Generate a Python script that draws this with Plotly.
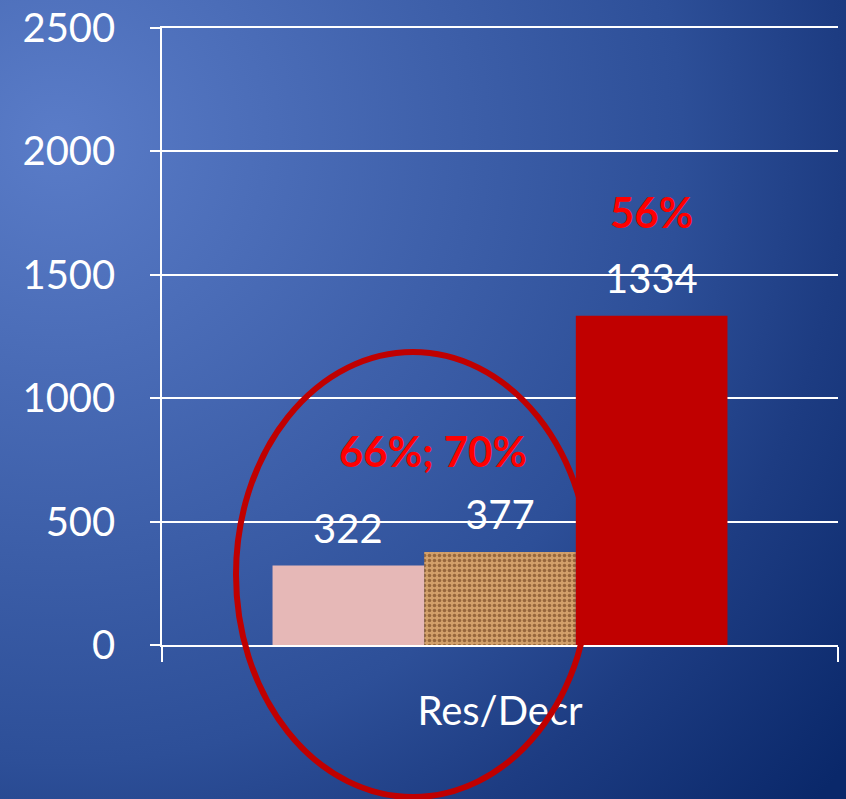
import base64
import plotly.graph_objects as go

# chart data
categories = ['Res/Decr']
values_a = [322]
values_b = [377]
values_c = [1334]
pct_ab = '66%; 70%'
pct_c = '56%'
y_ticks = [0, 500, 1000, 1500, 2000, 2500]

BARGAP = 0.327
FONT = 'Lato'
L, T, R, B = 162, 28, 8, 154
W, H = 846, 799
PW, PH = W - L - R, H - T - B

# gradient backdrop as an svg data uri
svg = '''<svg xmlns="http://www.w3.org/2000/svg" width="846" height="799" viewBox="0 0 846 799" preserveAspectRatio="none">
<defs><radialGradient id="g" gradientUnits="userSpaceOnUse" cx="60" cy="140" r="1000">
<stop offset="0" stop-color="#5a7cc8"/>
<stop offset="0.62" stop-color="#2d4f98"/>
<stop offset="0.78" stop-color="#1d3c82"/>
<stop offset="1" stop-color="#0a286a"/>
</radialGradient></defs>
<rect width="846" height="799" fill="url(#g)"/></svg>'''
bg_uri = 'data:image/svg+xml;base64,' + base64.b64encode(svg.encode()).decode()

fig = go.Figure()
fig.add_trace(go.Bar(x=categories, y=values_a, marker_color='#e6b8b7',
                     marker_line_width=0, name='a'))
fig.add_trace(go.Bar(x=categories, y=values_b, name='b',
                     marker=dict(color='#c9965f', line_width=0,
                                 pattern=dict(shape='.', bgcolor='#d2a06a',
                                              fgcolor='#7e4f28', size=5,
                                              solidity=0.4, fgopacity=0.7))))
fig.add_trace(go.Bar(x=categories, y=values_c, marker_color='#c00000',
                     marker_line_width=0, name='c'))

# bar centres in category units
step = (1 - BARGAP) / 3
centres = [-step, 0, step]
vals = [values_a[0], values_b[0], values_c[0]]

ann = []
for cx, v in zip(centres, vals):
    ann.append(dict(x=cx, y=v, xref='x', yref='y', text=str(v), showarrow=False,
                    yshift=38, font=dict(family=FONT, size=40, color='white')))
ann.append(dict(x=-step / 2 + 0.013, y=max(values_a[0], values_b[0]), xref='x', yref='y',
                text='<b>%s</b>' % pct_ab, showarrow=False, yshift=101,
                font=dict(family=FONT, size=42, color='#ff0000')))
ann.append(dict(x=step, y=values_c[0], xref='x', yref='y',
                text='<b>%s</b>' % pct_c, showarrow=False, yshift=104,
                font=dict(family=FONT, size=42, color='#ff0000')))

fig.update_layout(
    width=W, height=H,
    margin=dict(l=L, r=R, t=T, b=B),
    paper_bgcolor='#2a4b92', plot_bgcolor='rgba(0,0,0,0)',
    barmode='group', bargap=BARGAP, bargroupgap=0,
    showlegend=False,
    annotations=ann,
    images=[dict(source=bg_uri, xref='paper', yref='paper',
                 x=-(L + 3) / PW, y=1 + (T + 3) / PH,
                 sizex=(W + 6) / PW, sizey=(H + 6) / PH, sizing='stretch',
                 xanchor='left', yanchor='top', layer='below')],
    shapes=[dict(type='circle', xref='paper', yref='paper',
                 x0=(236 - L) / PW, x1=(590 - L) / PW,
                 y0=(H - B - 797) / PH, y1=(H - B - 352) / PH,
                 line=dict(color='#c00000', width=6))],
)
fig.update_yaxes(range=[0, 2500], tickvals=y_ticks, showgrid=True, automargin=False,
                 gridcolor='white', gridwidth=1.5, zeroline=False,
                 showline=True, linecolor='white', linewidth=1.5,
                 ticks='outside', ticklen=10, tickcolor='white', tickwidth=1.5,
                 ticklabelstandoff=27,
                 tickfont=dict(family=FONT, size=40, color='white'))
fig.update_xaxes(type='category', showline=True, linecolor='white', linewidth=1.5,
                 automargin=False, mirror=True,
                 ticks='outside', tickson='boundaries', ticklen=15,
                 tickcolor='white', tickwidth=1.5, ticklabelstandoff=30,
                 tickfont=dict(family=FONT, size=40, color='white'))

# drop the default page margin so the chart fills the window
fig.write_html('out.html', config={'displayModeBar': False},
               post_script="document.body.style.margin='0';document.body.style.overflow='hidden';")
